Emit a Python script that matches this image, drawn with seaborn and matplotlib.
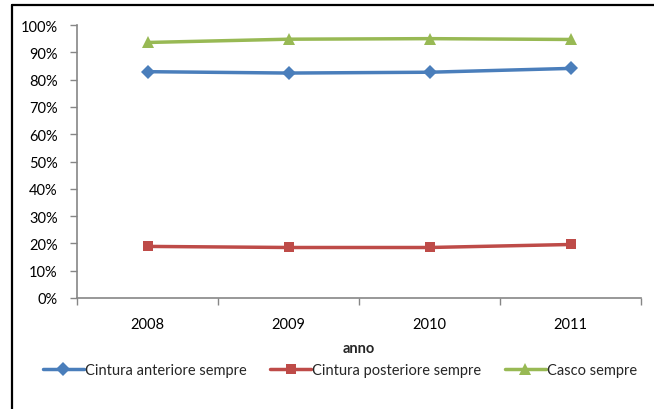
import matplotlib
matplotlib.use("Agg")
import matplotlib.pyplot as plt
import seaborn as sns
import pandas as pd
import numpy as np
from matplotlib.lines import Line2D
from matplotlib.ticker import FixedLocator, PercentFormatter

years = ["2008", "2009", "2010", "2011"]
cintura_anteriore = [82.9, 82.4, 82.7, 84.1]
cintura_posteriore = [18.9, 18.5, 18.5, 19.6]
casco = [93.6, 94.8, 95.0, 94.7]
series_names = ["Cintura anteriore sempre", "Cintura posteriore sempre", "Casco sempre"]

sns.set_theme(style="white")
plt.rcParams["font.family"] = ["Lato", "DejaVu Sans"]

rows = []
for name, vals in zip(series_names, [cintura_anteriore, cintura_posteriore, casco]):
    for i, (y, v) in enumerate(zip(years, vals)):
        rows.append({"pos": i, "anno": y, "serie": name, "valore": v})
df = pd.DataFrame(rows)

colors = {series_names[0]: "#4A7EBB", series_names[1]: "#BE4B48", series_names[2]: "#98B954"}
markers = {series_names[0]: "D", series_names[1]: "s", series_names[2]: "^"}
msizes = {series_names[0]: 7, series_names[1]: 7.5, series_names[2]: 9}

fig = plt.figure(figsize=(6.54, 4.10), dpi=100)
ax = fig.add_axes([77/654, 1 - 299/410, (641 - 77)/654, (299 - 26)/410])

for name in series_names:
    sub = df[df["serie"] == name]
    sns.lineplot(data=sub, x="pos", y="valore", ax=ax, color=colors[name],
                 marker=markers[name], markersize=msizes[name], linewidth=2.5,
                 markeredgewidth=0, label=name, legend=False)

ax.set_xlim(-0.5, len(years) - 0.5)
ax.set_ylim(0, 100)
ax.yaxis.set_major_locator(FixedLocator(np.arange(0, 101, 10)))
ax.yaxis.set_major_formatter(PercentFormatter(decimals=0))
ax.set_xticks(range(len(years)))
ax.set_xticklabels(years)
ax.xaxis.set_minor_locator(FixedLocator(np.arange(-0.5, len(years), 1.0)))
ax.tick_params(axis="x", which="major", length=0, pad=14, labelsize=10.5, colors="black")
ax.tick_params(axis="x", which="minor", length=5, width=1, color="#868686", bottom=True, direction="out")
ax.tick_params(axis="y", which="major", length=5, width=1, color="#868686", left=True, direction="out",
               pad=9, labelsize=10.5, labelcolor="black")
ax.set_xlabel("anno", fontsize=10.5, fontweight="bold", labelpad=7)
ax.set_ylabel("")
for s in ["top", "right"]:
    ax.spines[s].set_visible(False)
for s in ["left", "bottom"]:
    ax.spines[s].set_color("#868686")
    ax.spines[s].set_linewidth(1.2)
ax.grid(False)

handles, labels = ax.get_legend_handles_labels()
fig.legend(handles, labels, loc="center", bbox_to_anchor=(0.52, 1 - 371/410), ncol=3,
           frameon=False, fontsize=10.5, handlelength=2.8, columnspacing=1.6, handletextpad=0.1,
           borderaxespad=0)

fig.add_artist(Line2D([12/654, 12/654], [0, 1 - 6/410], transform=fig.transFigure, color="black", linewidth=1.6))
fig.add_artist(Line2D([12/654, 1], [1 - 6/410, 1 - 6/410], transform=fig.transFigure, color="black", linewidth=1.6))

fig.savefig("out.png", dpi=100)
